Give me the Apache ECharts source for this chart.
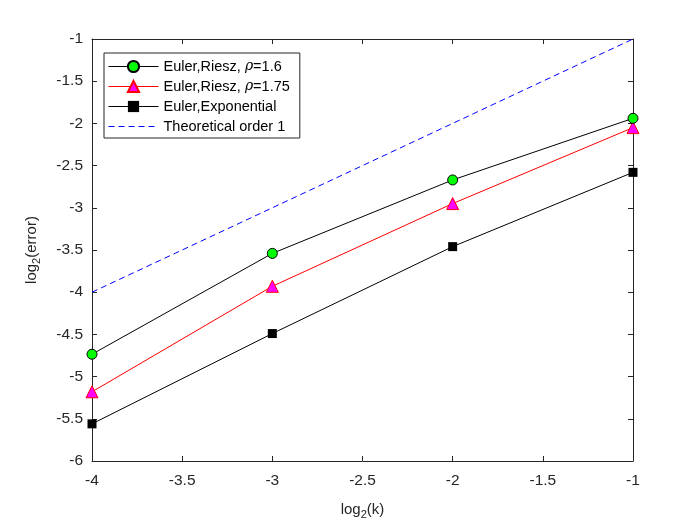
<!DOCTYPE html>
<html>
<head>
<meta charset="utf-8">
<script src="https://cdn.jsdelivr.net/npm/echarts@6/dist/echarts.min.js"></script>
<style>html,body{margin:0;padding:0;background:#fff}</style>
</head>
<body>
<div id="main" style="width:700px;height:525px"></div>
<script>
    // log2(k) values on the x axis
    var logK = [-4, -3, -2, -1];
    // log2(error) for each scheme
    var rieszRho16 = [-4.735, -3.54, -2.67, -1.94];
    var rieszRho175 = [-5.18, -3.93, -2.95, -2.05];
    var exponential = [-5.56, -4.49, -3.46, -2.58];
    var theoretical = [-4, -3, -2, -1];

    var seriesNames = ['Euler,Riesz, ρ=1.6', 'Euler,Riesz, ρ=1.75', 'Euler,Exponential', 'Theoretical order 1'];

    function pairs(ys){
        var out = [];
        for (var i = 0; i < logK.length; i++) {
            out.push([logK[i], ys[i]]);
        }
        return out;
    }

    var axisColor = '#262626';
    var font = 'Liberation Sans, Arial, sans-serif';

    var myChart = echarts.init(document.getElementById('main'));
    var option = {
        backgroundColor: '#ffffff',
        animation: false,
        grid: { left: 92, right: 67, top: 39, bottom: 62 },
        legend: {
            orient: 'vertical',
            left: 104,
            top: 53,
            data: [
                { name: seriesNames[0] },
                { name: seriesNames[1] },
                { name: seriesNames[2] },
                { name: seriesNames[3], itemStyle: { opacity: 0 }, lineStyle: { color: '#0000ff', width: 1, type: [6, 4] } }
            ],
            backgroundColor: '#ffffff',
            borderColor: axisColor,
            borderWidth: 1,
            borderRadius: 0,
            padding: [6, 10, 4, 4],
            itemGap: 5,
            itemWidth: 50,
            itemHeight: 14,
            lineStyle: { width: 1 },
            textStyle: {
                fontFamily: font,
                fontSize: 14.5,
                color: '#000',
                rich: {
                    i: { fontStyle: 'italic', fontFamily: 'DejaVu Serif, serif', fontSize: 14, color: '#000' }
                }
            },
            formatter: function(name){
                return name.replace('ρ', '{i|ρ}');
            }
        },
        xAxis: [
            {
                type: 'value',
                min: -4,
                max: -1,
                interval: 0.5,
                position: 'bottom',
                name: 'log{sub|2}(k)',
                nameLocation: 'middle',
                nameGap: 38,
                nameTextStyle: {
                    fontFamily: font,
                    fontSize: 15,
                    color: axisColor,
                    rich: { sub: { fontSize: 11, fontFamily: font, color: axisColor, padding: [10, 0, 0, 0] } }
                },
                axisLine: { show: true, onZero: false, lineStyle: { color: axisColor, width: 1 } },
                axisTick: { show: true, inside: true, length: 5, lineStyle: { color: axisColor } },
                axisLabel: { fontFamily: font, fontSize: 15.5, color: axisColor, margin: 12 },
                splitLine: { show: false }
            },
            {
                type: 'value',
                min: -4,
                max: -1,
                interval: 0.5,
                position: 'top',
                axisLine: { show: true, onZero: false, lineStyle: { color: axisColor, width: 1 } },
                axisTick: { show: true, inside: true, length: 5, lineStyle: { color: axisColor } },
                axisLabel: { show: false },
                splitLine: { show: false }
            }
        ],
        yAxis: [
            {
                type: 'value',
                min: -6,
                max: -1,
                interval: 0.5,
                position: 'left',
                name: 'log{sub|2}(error)',
                nameLocation: 'middle',
                nameRotate: 90,
                nameGap: 50,
                nameTextStyle: {
                    fontFamily: font,
                    fontSize: 15,
                    color: axisColor,
                    rich: { sub: { fontSize: 11, fontFamily: font, color: axisColor, padding: [10, 0, 0, 0] } }
                },
                axisLine: { show: true, onZero: false, lineStyle: { color: axisColor, width: 1 } },
                axisTick: { show: true, inside: true, length: 5, lineStyle: { color: axisColor } },
                axisLabel: { fontFamily: font, fontSize: 15.5, color: axisColor, margin: 9 },
                splitLine: { show: false }
            },
            {
                type: 'value',
                min: -6,
                max: -1,
                interval: 0.5,
                position: 'right',
                axisLine: { show: true, onZero: false, lineStyle: { color: axisColor, width: 1 } },
                axisTick: { show: true, inside: true, length: 5, lineStyle: { color: axisColor } },
                axisLabel: { show: false },
                splitLine: { show: false }
            }
        ],
        series: [
            {
                name: seriesNames[0],
                type: 'line',
                data: pairs(rieszRho16),
                symbol: 'circle',
                symbolSize: 10,
                lineStyle: { color: '#000000', width: 1 },
                itemStyle: { color: '#00ff00', borderColor: '#000000', borderWidth: 1 },
                z: 4
            },
            {
                name: seriesNames[1],
                type: 'line',
                data: pairs(rieszRho175),
                symbol: 'triangle',
                symbolSize: 12,
                lineStyle: { color: '#ff0000', width: 1 },
                itemStyle: { color: '#ff00ff', borderColor: '#ff0000', borderWidth: 1 },
                z: 3
            },
            {
                name: seriesNames[2],
                type: 'line',
                data: pairs(exponential),
                symbol: 'rect',
                symbolSize: 9,
                lineStyle: { color: '#000000', width: 1 },
                itemStyle: { color: '#000000', borderColor: '#000000', borderWidth: 0 },
                z: 3
            },
            {
                name: seriesNames[3],
                type: 'line',
                data: pairs(theoretical),
                showSymbol: false,
                symbol: 'none',
                lineStyle: { color: '#0000ff', width: 1, type: [6, 4] },
                itemStyle: { color: '#0000ff' },
                z: 2
            }
        ]
    };
    myChart.setOption(option);
</script>
</body>
</html>
